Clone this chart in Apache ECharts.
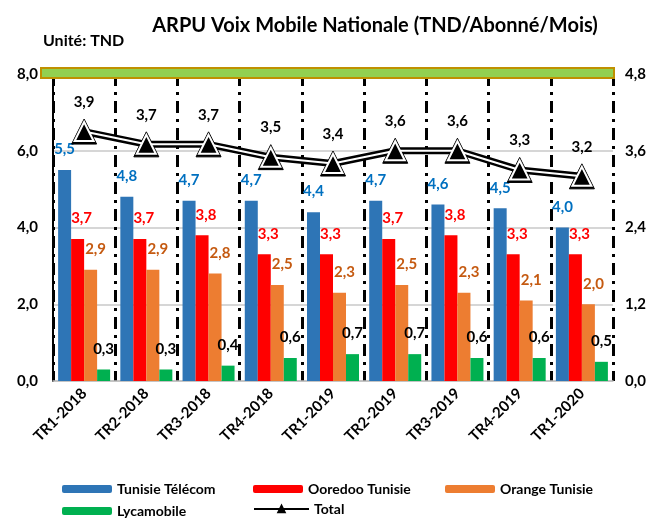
<!DOCTYPE html>
<html>
<head>
<meta charset="utf-8">
<script src="https://cdn.jsdelivr.net/npm/echarts@6/dist/echarts.min.js"></script>
<style>
  html, body { margin: 0; padding: 0; background: #fff; }
  #chart { width: 657px; height: 519px; }
</style>
</head>
<body>
<div id="chart"></div>
<script>
var categories = ["TR1-2018", "TR2-2018", "TR3-2018", "TR4-2018", "TR1-2019", "TR2-2019", "TR3-2019", "TR4-2019", "TR1-2020"];
var tunisieTelecom = [5.5, 4.8, 4.7, 4.7, 4.4, 4.7, 4.6, 4.5, 4.0];
var ooredoo = [3.7, 3.7, 3.8, 3.3, 3.3, 3.7, 3.8, 3.3, 3.3];
var orange = [2.9, 2.9, 2.8, 2.5, 2.3, 2.5, 2.3, 2.1, 2.0];
var lycamobile = [0.3, 0.3, 0.4, 0.6, 0.7, 0.7, 0.6, 0.6, 0.5];
var total = [3.9, 3.7, 3.7, 3.5, 3.4, 3.6, 3.6, 3.3, 3.2];

var FONT = "Lato";
var fmt = function (v) { return Number(v).toFixed(1).replace(".", ","); };

var myChart = echarts.init(document.getElementById("chart"));

function barSeries(name, data, color, labelColor, offX) {
    return {
        name: name,
        type: "bar",
        data: data,
        barWidth: 13,
        barGap: "0%",
        itemStyle: { color: color },
        label: {
            show: true,
            position: "top",
            distance: 13,
            offset: [offX, 0],
            color: labelColor,
            fontFamily: FONT,
            fontWeight: "bold",
            fontSize: 15,
            formatter: function (p) { return fmt(p.value); }
        }
    };
}

function legendAt(name, left, top, w) {
    return {
        data: [name],
        left: left,
        top: top,
        itemWidth: w || 50,
        itemHeight: 8,
        itemGap: 5,
        textStyle: { fontFamily: FONT, fontWeight: "bold", fontSize: 14, color: "#000" }
    };
}

var option = {
    animation: false,
    backgroundColor: "#fff",
    title: [
        {
            text: "ARPU Voix Mobile Nationale (TND/Abonné/Mois)",
            left: 370, top: 11, textAlign: "center",
            textStyle: { fontFamily: FONT, fontWeight: "bold", fontSize: 20, color: "#000" }
        },
        {
            text: "Unité: TND",
            left: 38, top: 28,
            textStyle: { fontFamily: FONT, fontWeight: "bold", fontSize: 16, color: "#000" }
        }
    ],
    legend: [
        legendAt("Tunisie Télécom", 57, 477),
        legendAt("Ooredoo Tunisie", 248, 477),
        legendAt("Orange Tunisie", 440, 477),
        legendAt("Lycamobile", 57, 499),
        legendAt("Total", 248, 497, 55)
    ],
    grid: { left: 53, right: 44, top: 74, bottom: 138 },
    graphic: [{
        type: "rect",
        shape: { x: 41, y: 68, width: 573, height: 10 },
        style: { fill: "#92D050", stroke: "#BF9000", lineWidth: 2 },
        z: 10
    }],
    xAxis: {
        type: "category",
        data: categories,
        axisLine: { show: true, lineStyle: { color: "#BFBFBF", width: 1.5 } },
        axisTick: { show: false },
        splitLine: {
            show: true,
            lineStyle: { color: "#000", width: 3, type: [12, 6, 3, 6] }
        },
        axisLabel: {
            rotate: 45,
            margin: 10,
            color: "#000",
            fontFamily: FONT,
            fontWeight: "bold",
            fontSize: 15
        }
    },
    yAxis: [
        {
            type: "value",
            min: 0, max: 8, interval: 2,
            axisLine: { show: true, lineStyle: { color: "#000", width: 2 } },
            axisTick: { show: false },
            splitLine: { lineStyle: { color: "#C8C8C8", width: 1.5 } },
            axisLabel: {
                formatter: fmt, margin: 15,
                color: "#000", fontFamily: FONT, fontWeight: "bold", fontSize: 15
            }
        },
        {
            type: "value",
            min: 0, max: 4.8, interval: 1.2,
            axisLine: { show: false },
            axisTick: { show: false },
            splitLine: { show: false },
            axisLabel: {
                formatter: fmt, margin: 12,
                color: "#000", fontFamily: FONT, fontWeight: "bold", fontSize: 15
            }
        }
    ],
    series: [
        barSeries("Tunisie Télécom", tunisieTelecom, "#2E75B6", "#0070C0", 0),
        barSeries("Ooredoo Tunisie", ooredoo, "#FF0000", "#FF0000", 4),
        barSeries("Orange Tunisie", orange, "#ED7D31", "#C55A11", 5),
        barSeries("Lycamobile", lycamobile, "#00B050", "#000", 0),
        {
            name: "Total",
            type: "line",
            yAxisIndex: 1,
            data: total,
            symbol: "triangle",
            symbolSize: 25,
            z: 5,
            lineStyle: { color: "#000", width: 7 },
            itemStyle: { color: "#000", borderColor: "#000", borderWidth: 1 },
            label: {
                show: true,
                position: "top",
                distance: 9,
                color: "#000",
                fontFamily: FONT,
                fontWeight: "bold",
                fontSize: 15,
                formatter: function (p) { return fmt(p.value); }
            }
        },
        {
            name: "Total-inner",
            type: "line",
            yAxisIndex: 1,
            data: total,
            symbol: "triangle",
            symbolSize: 19,
            z: 6,
            silent: true,
            lineStyle: { color: "#fff", width: 2 },
            itemStyle: { color: "#000", borderColor: "#fff", borderWidth: 2 }
        }
    ]
};

myChart.setOption(option);
</script>
</body>
</html>
